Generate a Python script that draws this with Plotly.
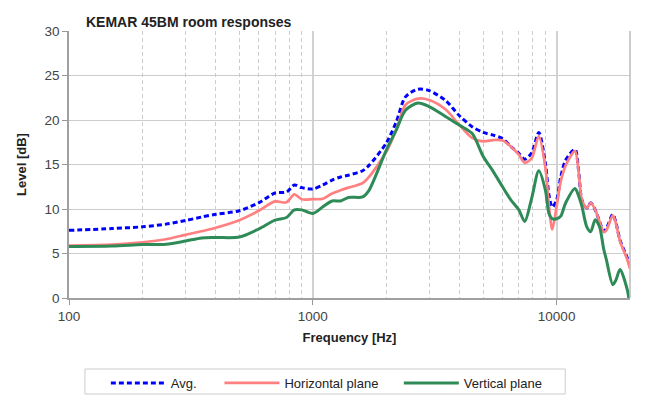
import plotly.graph_objects as go

# frequency grid [Hz]
freq = [100, 150, 200, 250, 300, 350, 400, 500, 600, 700, 780, 840, 900, 1000,
        1100, 1200, 1300, 1400, 1600, 1700, 2000, 2200, 2400, 2700, 3000, 3500,
        4000, 4500, 5000, 5500, 6000, 6500, 7000, 7400, 7900, 8450, 9000, 9300,
        9600, 10000, 10400, 10900, 11900, 12300, 12700, 13300, 13800, 14400,
        15000, 15600, 16000, 17000, 17500, 18200, 19500, 20000]

avg = [7.6, 7.8, 8.0, 8.3, 8.7, 9.1, 9.4, 9.8, 10.7, 11.8, 11.9, 12.7, 12.4, 12.25,
       12.7, 13.25, 13.6, 13.8, 14.3, 14.9, 17.4, 19.8, 22.6, 23.45, 23.3, 22.2,
       20.45, 19.25, 18.6, 18.3, 17.9, 17.0, 16.25, 15.6, 16.3, 18.6, 15.1, 11.6,
       10.2, 11.0, 13.6, 15.5, 16.7, 14.4, 11.0, 10.1, 10.7, 9.9,
       8.6, 7.5, 7.8, 9.4, 8.5, 6.5, 4.5, 3.6]

horizontal = [5.9, 6.0, 6.25, 6.6, 7.1, 7.5, 7.9, 8.75, 9.8, 10.85, 10.75, 11.65, 11.1, 11.1,
              11.15, 11.75, 12.1, 12.4, 12.9, 13.6, 16.4, 18.9, 21.7, 22.4, 22.25, 21.2,
              19.4, 18.0, 17.6, 17.75, 17.7, 17.0, 16.1, 15.2, 15.7, 18.2, 14.6, 10.4,
              7.7, 10.3, 13.1, 14.9, 16.5, 14.3, 11.0, 10.1, 10.7, 9.9,
              8.6, 7.4, 7.6, 9.3, 8.4, 6.4, 4.3, 3.3]

vertical = [5.8, 5.85, 6.0, 6.05, 6.4, 6.75, 6.8, 6.85, 7.75, 8.75, 9.05, 9.9, 9.9, 9.5,
            10.25, 10.9, 10.9, 11.3, 11.35, 12.1, 16.6, 18.9, 21.1, 21.9, 21.5, 20.4,
            19.4, 18.5, 15.9, 14.2, 12.5, 11.0, 9.9, 8.6, 11.2, 14.3, 12.1, 9.5,
            8.9, 8.9, 9.2, 10.7, 12.3, 11.5, 10.3, 8.0, 7.45, 8.8,
            8.0, 5.5, 4.3, 1.5, 2.0, 3.2, 0.9, -1.0]

font = "Liberation Sans, Arial, sans-serif"

fig = go.Figure()
fig.add_trace(go.Scatter(x=freq, y=avg, name="Avg.", mode="lines", legend="legend",
                         line=dict(color="#0000ff", width=3, dash="5px,3px", shape="spline", smoothing=0.8)))
fig.add_trace(go.Scatter(x=freq, y=horizontal, name="Horizontal plane", mode="lines", legend="legend2",
                         line=dict(color="#ff8080", width=2.7, shape="spline", smoothing=0.8)))
fig.add_trace(go.Scatter(x=freq, y=vertical, name="Vertical plane", mode="lines", legend="legend3",
                         line=dict(color="#2e8b57", width=3, shape="spline", smoothing=0.8)))

minor_vals = [200, 300, 400, 500, 600, 700, 800, 900,
              2000, 3000, 4000, 5000, 6000, 7000, 8000, 9000]

# page has an 8px body margin, so the figure is 8px smaller than the window
W, H = 660, 407
L, R, T, B = 59, 38, 23, 117
pw, ph = W - L - R, H - T - B


def leg(px):
    return dict(orientation="h", x=(px - 67) / pw, xanchor="left",
                y=(298 - 368) / ph, yanchor="top", bgcolor="rgba(0,0,0,0)",
                borderwidth=0, itemwidth=55, font=dict(size=13, color="#222"))


fig.update_layout(
    width=W, height=H,
    margin=dict(l=L, r=R, t=T, b=B),
    paper_bgcolor="white", plot_bgcolor="white",
    font=dict(family=font, size=13, color="#333"),
    title=dict(text="KEMAR 45BM room responses", x=78 / W, xanchor="left",
               y=1 - 14 / H, yanchor="middle", yref="container",
               font=dict(size=14, weight="bold", color="#222")),
    showlegend=True,
    legend=leg(104), legend2=leg(218), legend3=leg(398),
)

fig.update_xaxes(
    type="log", range=[2, 4.30103],
    tickvals=[100, 1000, 10000], ticktext=["100", "1000", "10000"],
    ticks="outside", ticklen=5, tickcolor="#999",
    showline=True, linecolor="#a0a0a0", linewidth=1.5,
    showgrid=True, gridcolor="#d2d2d2", gridwidth=2,
    minor=dict(tickvals=minor_vals, showgrid=True, gridcolor="#cccccc",
               griddash="4px,3px", gridwidth=1, ticks=""),
    zeroline=False,
    tickfont=dict(size=13.5, color="#444"),
    title=dict(text="Frequency [Hz]", standoff=10,
               font=dict(size=13, weight="bold", color="#222")),
    automargin=True,
)

fig.update_yaxes(
    range=[0, 30], dtick=5,
    ticks="outside", ticklen=5, tickcolor="#999",
    showline=True, linecolor="#a0a0a0", linewidth=1.5,
    showgrid=True, gridcolor="#cccccc", gridwidth=1,
    zeroline=False,
    tickfont=dict(size=13.5, color="#444"),
    title=dict(text="Level [dB]", standoff=15,
               font=dict(size=13, weight="bold", color="#222")),
    automargin=True,
)

# right border of plot area and legend frame
fig.add_shape(type="line", xref="paper", yref="paper", x0=1, x1=1, y0=0, y1=1,
              line=dict(color="#bbbbbb", width=1.5))
fig.add_shape(type="rect", xref="paper", yref="paper",
              x0=(83 - 67) / pw, x1=(565 - 67) / pw, y0=(298 - 369) / ph, y1=(298 - 394) / ph,
              line=dict(color="#cccccc", width=1))

fig.write_html("out.html")
